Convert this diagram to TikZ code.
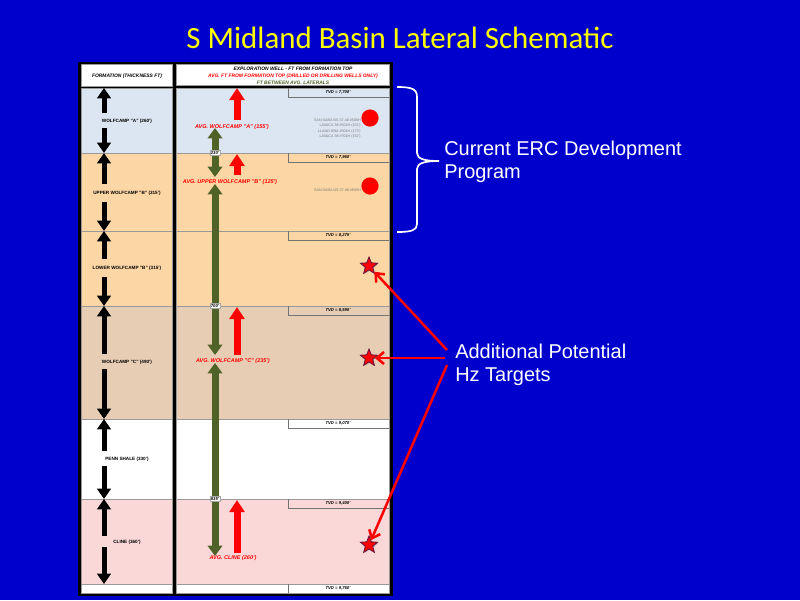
\documentclass[tikz,border=0pt]{standalone}
\usepackage{fontspec}
\setmainfont{Liberation Sans}
\newfontfamily\slidetitlefont{Carlito}
\usetikzlibrary{arrows.meta,shapes.geometric,shadows}
\definecolor{slideblue}{RGB}{0,0,204}
\definecolor{titleyellow}{RGB}{255,255,0}
\definecolor{wcafill}{RGB}{220,230,242}
\definecolor{wcbfill}{RGB}{252,214,164}
\definecolor{wccfill}{RGB}{230,205,180}
\definecolor{clinefill}{RGB}{250,216,216}
\definecolor{lateralgreen}{RGB}{79,98,40}
\definecolor{wellgray}{RGB}{120,120,120}
\definecolor{stardark}{RGB}{110,20,60}
\tikzset{
  titletext/.style={font=\slidetitlefont\fontsize{22}{26}\selectfont, text=titleyellow},
  notetext/.style={font=\fontsize{14.2}{16.6}\selectfont, text=white, align=left, anchor=west, inner sep=0pt},
  cell/.style={draw=black!40, line width=0.3pt},
  tvdbox/.style={draw=black!55, line width=0.4pt},
  tvdlabel/.style={font=\fontsize{3}{3.5}\selectfont\bfseries\itshape, inner sep=0pt},
  headtext/.style={font=\fontsize{3.5}{4}\selectfont\bfseries\itshape, inner sep=0pt},
  fmlabel/.style={font=\fontsize{3.3}{4}\selectfont\bfseries, inner sep=0.5pt},
  avglabel/.style={font=\fontsize{3.9}{4.5}\selectfont\bfseries\itshape, text=red, inner sep=0.5pt},
  gaplabel/.style={draw=black!35, fill=white, line width=0.3pt, font=\fontsize{3}{3.5}\selectfont\bfseries\itshape, inner sep=0.7pt},
  welltext/.style={font=\fontsize{2.6}{3}\selectfont, text=wellgray, anchor=east, inner sep=0pt},
  blkarrow/.style={draw=black, line width=0.125cm, -{Triangle[width=0.34cm,length=0.26cm]}},
  avgarrow/.style={draw=red, line width=0.175cm, -{Triangle[width=0.37cm,length=0.3cm]}},
  latarrow/.style={draw=lateralgreen, line width=0.175cm, {Triangle[width=0.36cm,length=0.26cm]}-{Triangle[width=0.36cm,length=0.26cm]}},
  wellspot/.style={circle, fill=red, minimum size=0.43cm, inner sep=0pt},
  target/.style={star, star points=5, star point ratio=2.3, minimum size=0.45cm, inner sep=0pt, fill=red, draw=stardark, line width=0.6pt, drop shadow={opacity=0.35, shadow xshift=0.6pt, shadow yshift=-0.6pt}},
  pointer/.style={draw=red, line width=1.8pt, -{Straight Barb[length=0.18cm,width=0.3cm]}},
  brace/.style={draw=white, line width=1.2pt},
}
\begin{document}
\begin{tikzpicture}[x=0.025cm,y=-0.025cm]
\useasboundingbox (0,0) rectangle (800,600);
\fill[slideblue] (0,0) rectangle (800,600);
\node[titletext] (title) at (400,38) {S Midland Basin Lateral Schematic};

\fill[black] (78,62) rectangle (393,596);
\draw[cell, fill=white] (81,64) rectangle (172,86);
\draw[cell, fill=white] (176,64) rectangle (389,85);
\draw[cell, fill=wcafill] (81,88) rectangle (172,153);
\draw[cell, fill=wcbfill] (81,153) rectangle (172,231);
\draw[cell, fill=wcbfill] (81,231) rectangle (172,306);
\draw[cell, fill=wccfill] (81,306) rectangle (172,419);
\draw[cell, fill=white] (81,419) rectangle (172,499);
\draw[cell, fill=clinefill] (81,499) rectangle (172,584);
\draw[cell, fill=white] (81,584) rectangle (172,593);
\draw[cell, fill=wcafill] (176,88) rectangle (389,153);
\draw[cell, fill=wcbfill] (176,153) rectangle (389,231);
\draw[cell, fill=wcbfill] (176,231) rectangle (389,306);
\draw[cell, fill=wccfill] (176,306) rectangle (389,419);
\draw[cell, fill=white] (176,419) rectangle (389,499);
\draw[cell, fill=clinefill] (176,499) rectangle (389,584);
\draw[cell, fill=white] (176,584) rectangle (389,593);

\node[headtext] (fmhead) at (127,76) {FORMATION (THICKNESS FT)};
\node[headtext] (wellhead) at (293,69) {EXPLORATION WELL - FT FROM FORMATION TOP};
\node[headtext, text=red] (avghead) at (293,76) {AVG. FT FROM FORMATION TOP (DRILLED OR DRILLING WELLS ONLY)};
\node[headtext, text=lateralgreen] (gaphead) at (293,83) {FT BETWEEN AVG. LATERALS};

\draw[tvdbox] (288,88) -- (288,97) -- (389,97);
\draw[tvdbox] (288,153) -- (288,162) -- (389,162);
\draw[tvdbox] (288,231) -- (288,240) -- (389,240);
\draw[tvdbox] (288,306) -- (288,315) -- (389,315);
\draw[tvdbox] (288,419) -- (288,428) -- (389,428);
\draw[tvdbox] (288,499) -- (288,508) -- (389,508);
\draw[tvdbox] (288,584) -- (288,593);
\node[tvdlabel] (tvd1) at (338,92.5) {TVD = 7,700'};
\node[tvdlabel] (tvd2) at (338,157.5) {TVD = 7,960'};
\node[tvdlabel] (tvd3) at (338,235.5) {TVD = 8,275'};
\node[tvdlabel] (tvd4) at (338,310.5) {TVD = 8,590'};
\node[tvdlabel] (tvd5) at (338,423.5) {TVD = 9,070'};
\node[tvdlabel] (tvd6) at (338,503.5) {TVD = 9,400'};
\node[tvdlabel] (tvd7) at (338,588.5) {TVD = 9,760'};

\node[fmlabel] (fmA) at (127,121) {WOLFCAMP "A" (260')};
\node[fmlabel] (fmUB) at (127,193) {UPPER WOLFCAMP "B" (315')};
\node[fmlabel] (fmLB) at (127,268) {LOWER WOLFCAMP "B" (315')};
\node[fmlabel] (fmC) at (127,362) {WOLFCAMP "C" (490')};
\node[fmlabel] (fmPS) at (127,459) {PENN SHALE (330')};
\node[fmlabel] (fmCL) at (127,542) {CLINE (360')};
\draw[blkarrow] (104,113) -- (104,88);
\draw[blkarrow] (104,128) -- (104,153);
\draw[blkarrow] (104,184) -- (104,153);
\draw[blkarrow] (104,202) -- (104,231);
\draw[blkarrow] (104,259) -- (104,231);
\draw[blkarrow] (104,277) -- (104,306);
\draw[blkarrow] (104,354) -- (104,306);
\draw[blkarrow] (104,369) -- (104,419);
\draw[blkarrow] (104,451) -- (104,419);
\draw[blkarrow] (104,466) -- (104,499);
\draw[blkarrow] (104,536) -- (104,499);
\draw[blkarrow] (104,547) -- (104,584);

\draw[latarrow] (215,128) -- (215,177);
\draw[latarrow] (215,184) -- (215,355);
\draw[latarrow] (215,363) -- (215,556);
\node[gaplabel] (gap230) at (215,153) {230'};
\node[gaplabel] (gap700) at (215,306) {700'};
\node[gaplabel] (gap835) at (215,499) {835'};

\draw[avgarrow] (237,120) -- (237,88);
\draw[avgarrow] (237,175) -- (237,154);
\draw[avgarrow] (237,355) -- (237,307);
\draw[avgarrow] (237,553) -- (237,500);
\node[avglabel] (avgA) at (232,127) {AVG. WOLFCAMP "A" (155')};
\node[avglabel] (avgUB) at (230,182) {AVG. UPPER WOLFCAMP "B" (125')};
\node[avglabel] (avgC) at (233,361) {AVG. WOLFCAMP "C" (235')};
\node[avglabel] (avgCL) at (233,558) {AVG. CLINE (260')};

\node[welltext] (wellA1) at (361,120) {SAN SABA NS 37-48 \#506H};
\node[welltext] (wellA2) at (361,126) {LAVACA 38 \#501H (152')};
\node[welltext] (wellA3) at (361,132) {LLANO 8/9A \#501H (173')};
\node[welltext] (wellA4) at (361,137) {LAVACA 38 \#701H (152')};
\node[welltext] (wellUB1) at (361,190) {SAN SABA NS 37-48 \#505H};
\node[wellspot] (spotA) at (370,118) {};
\node[wellspot] (spotUB) at (370,186) {};

\node[target] (starLB) at (369,266) {};
\node[target] (starC) at (369,358) {};
\node[target] (starCL) at (369,545) {};

\draw[brace] (397,87) .. controls (412,87) and (417,89) .. (417,97) -- (417,153)
  .. controls (417,159) and (425,161) .. (439,161)
  .. controls (425,161) and (417,163) .. (417,169) -- (417,224)
  .. controls (417,230) and (412,232) .. (397,232);
\node[notetext] (ercnote) at (444,162) {Current ERC Development\\Program};

\node[notetext] (hznote) at (455,365) {Additional Potential\\Hz Targets};
\coordinate (hzfrom1) at (447,350);
\coordinate (hzfrom2) at (445,358);
\coordinate (hzfrom3) at (447,365);
\draw[pointer] (hzfrom1) -- (starLB);
\draw[pointer] (hzfrom2) -- (starC);
\draw[pointer] (hzfrom3) -- (starCL);
\end{tikzpicture}
\end{document}
